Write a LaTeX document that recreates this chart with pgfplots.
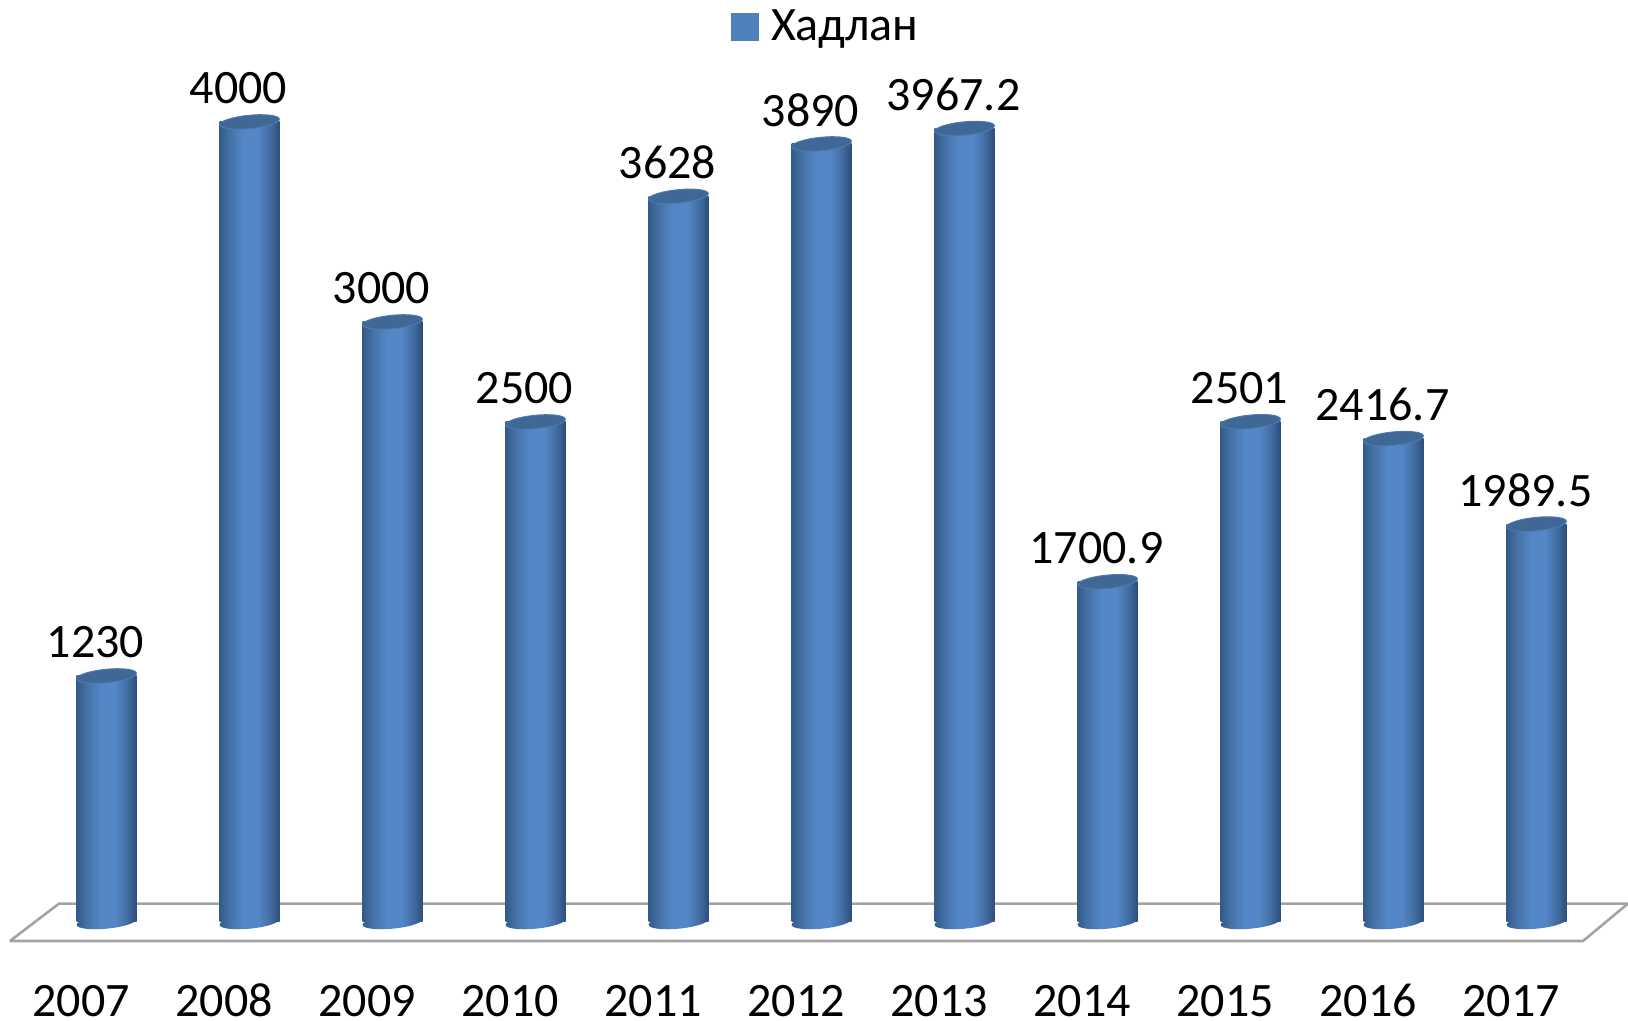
\documentclass[border=0pt]{standalone}
\usepackage{pgfplots}
\usepackage{pgfplotstable}
\usepackage{fontspec}
\setmainfont{Carlito}
\pgfplotsset{compat=1.18}
\definecolor{barmid}{HTML}{5487C8}
\definecolor{baredgeL}{HTML}{325B89}
\definecolor{baredgeR}{HTML}{2C4E7A}
\definecolor{barsoftL}{HTML}{4470A5}
\definecolor{barsoftR}{HTML}{426DA2}
\definecolor{capdark}{HTML}{3F6897}
\definecolor{capedge}{HTML}{4F79AD}
\definecolor{legblue}{HTML}{4F81BD}
\definecolor{floorgray}{HTML}{A3A3A3}
\pgfdeclarehorizontalshading{cyl}{100bp}{color(0bp)=(baredgeL); color(25bp)=(baredgeL); color(33bp)=(barsoftL); color(45bp)=(barmid); color(57bp)=(barmid); color(67bp)=(barsoftR); color(75bp)=(baredgeR); color(100bp)=(baredgeR)}
\pgfdeclareplotmark{cyltop}{%
  \pgfsetfillcolor{capdark}\pgfsetstrokecolor{capedge}\pgfsetlinewidth{0.5pt}%
  \pgfpathellipse{\pgfpointorigin}{\pgfqpoint{14.93pt}{1.46pt}}{\pgfqpoint{-0.33pt}{3.33pt}}%
  \pgfusepath{fill,stroke}}
\pgfdeclareplotmark{cylbase}{%
  \pgfpathellipse{\pgfpointorigin}{\pgfqpoint{14.93pt}{1.46pt}}{\pgfqpoint{-0.33pt}{3.33pt}}%
  \pgfshadepath{cyl}{0}\pgfusepath{discard}}
\pgfplotstableread{
x y label
0 1230 1230
1 4000 4000
2 3000 3000
3 2500 2500
4 3628 3628
5 3890 3890
6 3967.2 3967.2
7 1700.9 1700.9
8 2501 2501
9 2416.7 2416.7
10 1989.5 1989.5
}\hadlan
\pgfplotstableread{
x y
0 0
1 0
2 0
3 0
4 0
5 0
6 0
7 0
8 0
9 0
10 0
}\bases
\pgfplotsset{cylbar/.style={ybar, bar shift=0pt, bar width=30pt, draw=none, shading=cyl, forget plot}}
\begin{document}
\begin{tikzpicture}
\path[use as bounding box] (0,0) rectangle (814pt,510.5pt);
\begin{axis}[
  at={(0,0)}, anchor=south west,
  scale only axis, width=814pt, height=510.5pt,
  xmin=-0.7448, xmax=10.640, ymin=-495, ymax=4610,
  axis line style={draw=none}, tick style={draw=none},
  ytick=\empty,
  xtick={0,1,2,3,4,5,6,7,8,9,10},
  xticklabels={2007,2008,2009,2010,2011,2012,2013,2014,2015,2016,2017},
  xticklabel style={font=\fontsize{24}{24}\selectfont, anchor=base, inner sep=0pt, xshift=-12.75pt, yshift=2.2pt},
  clip=false,
  legend style={at={(413.5pt,497pt)}, anchor=center, draw=none, fill=none,
    font=\fontsize{24}{24}\selectfont, inner sep=0pt, legend cell align=left},
  legend image code/.code={\fill[legblue] (0pt,-6.75pt) rectangle (13.5pt,6.75pt);},
  nodes near coords style={font=\fontsize{24}{24}\selectfont, anchor=center, inner sep=0pt, xshift=-5.5pt, yshift=17pt, text=black},
]
\addlegendimage{legblue}
\addlegendentry{\hspace*{4pt}Хадлан}
\addplot[floorgray, line width=1.3pt, line join=miter, forget plot] coordinates {(-0.675,-95) (-0.332,92) (10.64,92) (10.325,-95) (-0.675,-95)};
\addplot[only marks, mark=cylbase, forget plot] table[x=x,y=y] {\bases};
\addplot[cylbar] coordinates {(0,1230)};
\addplot[cylbar] coordinates {(1,4000)};
\addplot[cylbar] coordinates {(2,3000)};
\addplot[cylbar] coordinates {(3,2500)};
\addplot[cylbar] coordinates {(4,3628)};
\addplot[cylbar] coordinates {(5,3890)};
\addplot[cylbar] coordinates {(6,3967.2)};
\addplot[cylbar] coordinates {(7,1700.9)};
\addplot[cylbar] coordinates {(8,2501)};
\addplot[cylbar] coordinates {(9,2416.7)};
\addplot[cylbar] coordinates {(10,1989.5)};
\addplot[only marks, mark=cyltop, forget plot, point meta=explicit symbolic, nodes near coords] table[x=x,y=y,meta=label] {\hadlan};
\end{axis}
\end{tikzpicture}
\end{document}
